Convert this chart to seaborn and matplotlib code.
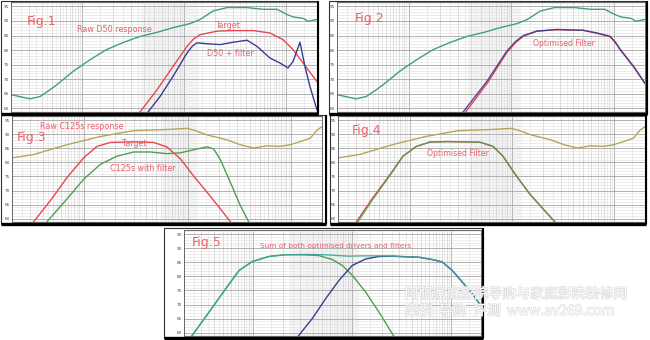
import numpy as np
import matplotlib
matplotlib.use("Agg")
import matplotlib.pyplot as plt
import matplotlib.patheffects as pe
from matplotlib.patches import Rectangle
from matplotlib.lines import Line2D
from matplotlib.ticker import LogLocator, NullFormatter
import seaborn as sns

sns.set_style("white")
plt.rcParams["font.family"] = ["DejaVu Sans", "Noto Sans CJK SC"]

# ---------------- measured responses (Hz, dB SPL) ----------------
# Raw D50 response (Fig.1, Fig.2)
d50_raw_freq = [20.3, 30.7, 38.5, 48.2, 56.1, 81.1, 119, 173, 251, 368, 540, 775, 1138,
                1426, 1911, 2623, 4120, 5914, 8110, 10160, 11640, 14590, 16330, 20000]
d50_raw_db = [64.7, 63.3, 64.1, 66.4, 68.1, 72.7, 76.7, 80.2, 82.6, 84.7, 86.1, 87.7, 89.1,
              90.5, 93.4, 94.6, 94.6, 94.0, 94.0, 92.2, 91.4, 90.9, 89.9, 90.5]

# D50 target (Fig.1)
d50_target_freq = [329, 368, 540, 775, 1063, 1230, 1426, 2092, 3002, 4716, 6918, 9280, 11640, 14590, 20000]
d50_target_db = [56.5, 58.8, 66.4, 74.4, 81.3, 83.8, 85.3, 86.5, 86.7, 86.7, 85.9, 83.6, 80.2, 75.6, 69.2]

# D50 + first filter (Fig.1)
d50_filt_freq = [403, 441, 578, 775, 1063, 1200, 1332, 1670, 2239, 3002, 4120, 5161, 6918, 8670,
                 10390, 11640, 13620, 15240, 17060, 20000]
d50_filt_db = [56.5, 58.8, 64.1, 71.0, 79.0, 81.4, 82.5, 82.2, 81.9, 82.7, 83.4, 81.3, 77.3, 75.6,
               73.9, 76.1, 82.7, 74.4, 67.5, 59.5]

# Fig.2: target and D50 with optimised filter
d50_target2_freq = [333, 360, 590, 910, 1100, 1306, 1763, 2762, 5012, 6768, 9117, 10300, 11430, 15390, 20000]
d50_target2_db = [57.3, 58.9, 69.0, 79.4, 82.6, 84.8, 86.5, 87.0, 86.8, 85.8, 84.6, 82.8, 80.4, 74.6, 68.5]
d50_opt_freq = [313, 340, 574, 899, 1090, 1306, 1763, 2762, 5012, 6768, 9117, 10300, 11430, 15390, 20000]
d50_opt_db = [57.3, 58.9, 69.2, 79.6, 82.9, 85.0, 86.5, 87.1, 86.8, 85.9, 84.8, 82.6, 80.2, 74.4, 68.7]

# Raw C125s response (Fig.3, Fig.4)
c125_raw_freq = [20, 32.4, 68.1, 143, 301, 632, 988, 1143, 1542, 2410, 3237, 4355, 5875,
                 7890, 9863, 12330, 15410, 17900, 20000]
c125_raw_db = [81.6, 82.8, 86.3, 89.2, 91.3, 91.7, 92.1, 91.5, 89.8, 88.0, 86.3, 85.1, 85.9,
               85.7, 86.3, 87.4, 88.6, 91.5, 92.7]

# C125s target (Fig.3)
c125_target_freq = [30.3, 32.4, 47.0, 68.1, 98.6, 133, 179, 301, 469, 632, 851, 1143, 1542, 2075, 2595, 2767]
c125_target_db = [57.5, 58.9, 66.4, 74.6, 81.6, 85.7, 87.1, 87.3, 87.1, 85.5, 81.3, 75.2, 69.4, 63.5, 58.9, 57.2]

# C125s with first filter (Fig.3)
c125_filt_freq = [40.0, 43.6, 68.1, 98.6, 143, 207, 301, 436, 632, 851, 1143, 1542, 1787,
                  2075, 2595, 3237, 3899, 4110]
c125_filt_db = [57.3, 58.9, 67.0, 74.0, 79.3, 82.2, 83.7, 83.7, 83.1, 83.4, 84.5, 85.5, 84.8,
                81.0, 72.9, 64.7, 58.9, 57.3]

# Fig.4: target and C125s with optimised filter
c125_target2_freq = [28.3, 30.3, 43.0, 63.0, 86.3, 116.7, 157.5, 229, 333, 485, 655, 819, 1106, 1493, 2014, 2624, 2875]
c125_target2_db = [57.3, 58.9, 67.0, 75.2, 82.2, 85.7, 87.2, 87.4, 87.3, 87.2, 85.7, 82.2, 75.2, 68.8, 63.5, 58.9, 57.3]
c125_opt_freq = [29.3, 31.3, 44.0, 64.0, 86.3, 116.7, 157.5, 229, 333, 485, 655, 819, 1106, 1493, 2014, 2624, 2875]
c125_opt_db = [57.3, 58.9, 67.0, 75.2, 82.2, 85.7, 87.2, 87.4, 87.3, 87.2, 85.7, 82.2, 75.2, 68.8, 63.5, 58.9, 57.3]

# Fig.5: both optimised drivers and their sum
woofer_freq = [22.5, 24.3, 35.8, 52.8, 71.9, 98.0, 144.5, 212.8, 313.3, 462.3, 629.5, 794.3,
               1002, 1368, 1866, 2541, 2786]
woofer_db = [57.5, 59.1, 67.3, 75.6, 82.1, 85.3, 87.1, 87.7, 87.7, 87.4, 86.0, 83.9,
             80.4, 74.4, 67.3, 59.6, 57.3]
mid_freq = [267, 290, 395, 540, 736, 1002, 1368, 1866, 2541, 3467, 4732, 6442, 8128,
            10260, 12940, 16330, 19860]
mid_db = [57.5, 59.1, 65.0, 72.1, 78.6, 83.9, 86.2, 87.1, 87.2, 87.0, 86.8, 86.0, 85.1,
          82.1, 78.0, 73.8, 69.7]
sum_freq = [22.5, 24.3, 35.8, 52.8, 71.9, 98.0, 144.5, 212.8, 366, 540, 736, 929, 1265,
            1866, 2541, 3467, 4732, 6442, 8128, 10260, 12940, 16330, 19860]
sum_db = [57.5, 59.1, 67.3, 75.6, 82.1, 85.3, 87.1, 87.7, 87.8, 87.7, 87.4, 87.2, 87.3,
          87.3, 87.2, 87.0, 86.8, 86.0, 85.1, 82.1, 78.0, 73.8, 69.7]

# ---------------- styling ----------------
C_RAW_D50 = "#3fa07e"
C_TARGET = "#e6474f"
C_BLUE = "#3b3c92"
C_OLIVE = "#b5a65a"
C_GREEN = "#4f9f52"
C_SUM = "#3aa59a"
C_TEXT = "#ef5f69"

W, H = 650, 340
fig = plt.figure(figsize=(6.5, 3.4), dpi=100)


def fx(x):
    return x / W


def fy(y):
    return 1 - y / H


def make_panel(frame, area, band):
    x0, y0, x1, y1 = frame
    fig.add_artist(Rectangle((fx(x0), fy(y1)), (x1 - x0) / W, (y1 - y0) / H,
                             transform=fig.transFigure, facecolor="white",
                             edgecolor="#303030", lw=0.8, zorder=-1))
    fig.add_artist(Line2D([fx(x0), fx(x1)], [fy(y1), fy(y1)], transform=fig.transFigure,
                          color="black", lw=2.4, zorder=5, solid_capstyle="butt"))
    fig.add_artist(Line2D([fx(x1), fx(x1)], [fy(y0), fy(y1)], transform=fig.transFigure,
                          color="black", lw=1.5, zorder=5, solid_capstyle="butt"))
    a0, b0, a1, b1 = area
    ax = fig.add_axes([fx(a0), fy(b1), (a1 - a0) / W, (b1 - b0) / H])
    ax.set_xscale("log")
    ax.set_xlim(20, 20000)
    ax.set_ylim(58.8, 96.5)
    ax.xaxis.set_major_locator(LogLocator(base=10, numticks=10))
    ax.xaxis.set_minor_locator(LogLocator(base=10, subs=np.arange(1.5, 10, 0.5), numticks=80))
    ax.xaxis.set_major_formatter(NullFormatter())
    ax.xaxis.set_minor_formatter(NullFormatter())
    ax.set_yticks(np.arange(60, 96, 5))
    ax.set_yticks(np.arange(59, 97, 1), minor=True)
    ax.grid(which="major", color="#a4a4a4", lw=0.6)
    ax.grid(which="minor", color="#e0e0e0", lw=0.4)
    # mid-weight lines at whole multiples inside each decade
    for dec in (10, 100, 1000, 10000):
        for m in range(2, 10):
            if 20 <= dec * m <= 20000:
                ax.axvline(dec * m, color="#c6c6c6", lw=0.45, zorder=0.4)
    ax.set_axisbelow(True)
    ax.tick_params(which="both", length=0)
    ax.tick_params(axis="y", labelsize=3, pad=1.6, labelcolor="#444444")
    ax.axvspan(band[0], band[1], color="#7a7a7a", alpha=0.07, lw=0, zorder=0.5)
    for s in ax.spines.values():
        s.set_color("#555555")
        s.set_linewidth(0.6)
    return ax


def curve(ax, f, db, color, lw=1.0, alpha=1.0):
    sns.lineplot(x=f, y=db, ax=ax, color=color, lw=lw, alpha=alpha,
                 estimator=None, sort=False, legend=False)
    ax.set_xlabel("")
    ax.set_ylabel("")


def label(x, y, s, size, **kw):
    fig.text(fx(x), fy(y), s, fontsize=size, color=C_TEXT, va="baseline", ha="left", **kw)


# Fig.1
ax1 = make_panel((1, 1, 318, 114), (11, 2, 317, 112), (380, 1400))
curve(ax1, d50_raw_freq, d50_raw_db, C_RAW_D50)
curve(ax1, d50_target_freq, d50_target_db, C_TARGET)
curve(ax1, d50_filt_freq, d50_filt_db, C_BLUE)

# Fig.2
ax2 = make_panel((329, 1, 647, 114), (337, 2, 645, 112), (380, 1250))
curve(ax2, d50_raw_freq, d50_raw_db, C_RAW_D50)
curve(ax2, d50_target2_freq, d50_target2_db, C_TARGET)
curve(ax2, d50_opt_freq, d50_opt_db, C_BLUE, alpha=0.9)

# Fig.3
ax3 = make_panel((1, 115, 326, 224), (12, 116, 322, 222), (560, 1250))
curve(ax3, c125_raw_freq, c125_raw_db, C_OLIVE)
curve(ax3, c125_target_freq, c125_target_db, C_TARGET)
curve(ax3, c125_filt_freq, c125_filt_db, C_GREEN)

# Fig.4
ax4 = make_panel((330, 115, 646, 224), (338, 116, 645, 222), (380, 1250))
curve(ax4, c125_raw_freq, c125_raw_db, C_OLIVE)
curve(ax4, c125_target2_freq, c125_target2_db, C_TARGET)
curve(ax4, c125_opt_freq, c125_opt_db, C_GREEN, alpha=0.85)

# Fig.5
ax5 = make_panel((164, 228, 483, 338), (184, 230, 481, 336), (230, 1180))
curve(ax5, woofer_freq, woofer_db, C_GREEN)
curve(ax5, mid_freq, mid_db, C_BLUE)
curve(ax5, sum_freq, sum_db, C_SUM, alpha=0.9)

# annotations
label(27, 24.5, "Fig.1", 9)
label(77, 31.5, "Raw D50 response", 5.8)
label(215, 28, "Target", 5.8)
label(207, 56.5, "D50 + filter", 5.8)

label(355, 22, "Fig.2", 9)
label(533, 46, "Optimised Filter", 5.6)

label(40, 129, "Raw C125s response", 5.8)
label(17, 141, "Fig.3", 9)
label(122, 146, "Target", 5.6)
label(110, 171, "C125s with filter", 5.8)

label(352, 134, "Fig.4", 9)
label(427, 156, "Optimised Filter", 5.6)

label(192, 246, "Fig.5", 9)
label(260, 248, "Sum of both optimised drivers and filters", 5.3)

# site watermark
wm = dict(fontsize=10, color="white", va="baseline", ha="left", alpha=0.9,
          family=["Noto Sans CJK SC", "DejaVu Sans"], zorder=10,
          path_effects=[pe.Stroke(linewidth=0.8, foreground="#d6d6d6"), pe.Normal()])
fig.text(fx(405), fy(298), "阿强家庭影院导购与家庭影院装修网", **wm)
fig.text(fx(405), fy(315), "案例  导购  评测  www.av269.com", **wm)

fig.savefig("out.png", dpi=100)
